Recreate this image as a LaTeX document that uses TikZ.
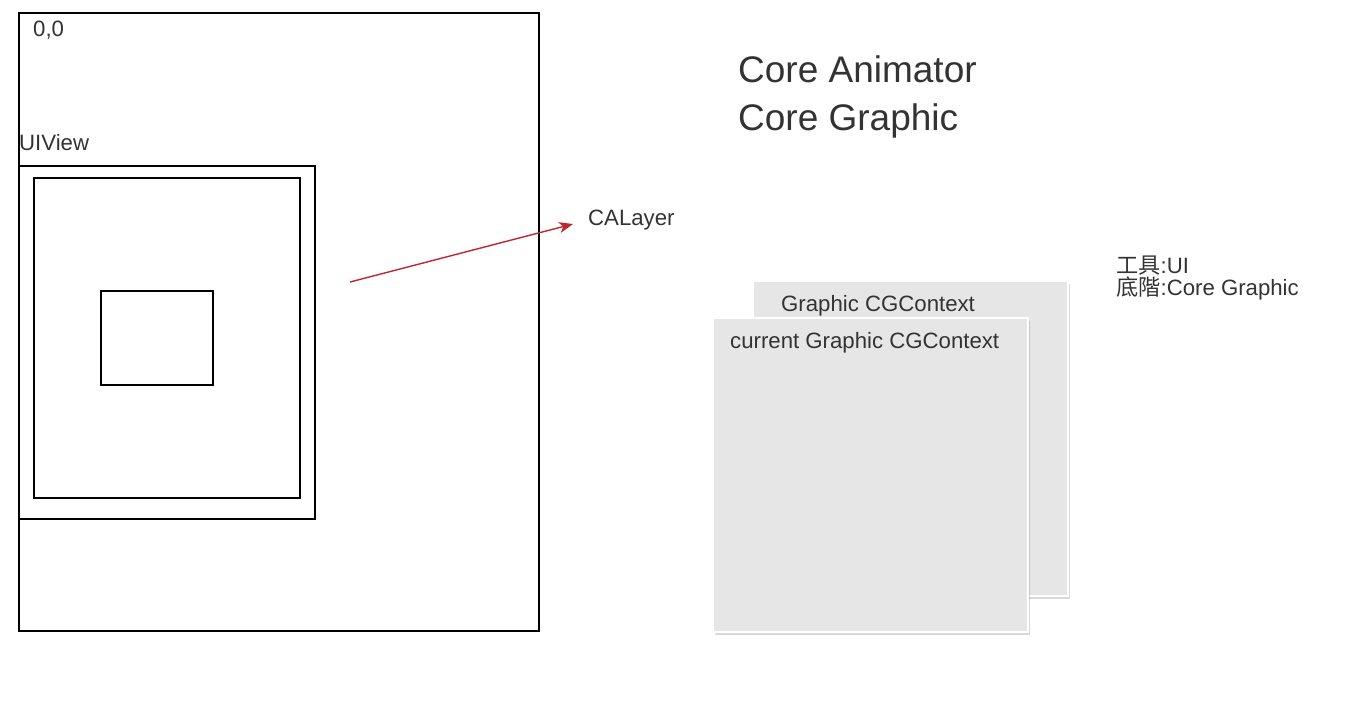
\documentclass[tikz,border=0pt]{standalone}
\usepackage{fontspec}
\setmainfont{Liberation Sans}
\newfontfamily\cjk{Noto Sans CJK SC}
\usetikzlibrary{shadows,arrows.meta}
\definecolor{txt}{HTML}{333333}
\definecolor{panel}{HTML}{E6E6E6}
\definecolor{arrowred}{HTML}{C0262D}
\begin{document}
\begin{tikzpicture}[x=1pt,y=1pt,
  frame/.style={draw=black,line width=1.5pt,inner sep=0pt,outer sep=0pt,anchor=north west},
  lbl/.style={text=txt,inner sep=0pt,anchor=west,yshift=-2.5pt,font=\fontsize{22.2}{25}\selectfont},
  title/.style={text=txt,inner sep=0pt,anchor=west,yshift=-3.5pt,font=\fontsize{37}{41}\selectfont},
  ctxpanel/.style={fill=panel,draw=white,line width=2pt,inner sep=0pt,outer sep=0pt,anchor=north west,
    minimum width=315,minimum height=315,
    drop shadow={shadow xshift=2pt,shadow yshift=-3pt,opacity=0.25,fill=black!60}},
  link/.style={draw=arrowred,line width=1.4pt,-{Stealth[length=14pt,width=11pt,inset=4pt]}}]
  \useasboundingbox (0,0) rectangle (1367,-710);

  % screen with its coordinate origin
  \node[frame,minimum width=520,minimum height=618] (screen) at (19,-13) {};
  \node[lbl] (origin) at (33,-28) {0,0};

  % view hierarchy
  \node[lbl] (uiviewlbl) at (19,-140) {UIView};
  \node[frame,minimum width=296,minimum height=353] (uiview) at (19,-166) {};
  \node[frame,minimum width=266,minimum height=320] (inner) at (34,-178) {};
  \node[frame,minimum width=112,minimum height=94] (sub) at (101,-291) {};

  % backing layer
  \node[lbl] (calayer) at (588,-218) {CALayer};
  \coordinate (src) at (350,-282);
  \coordinate (tip) at (573,-224);
  \draw[link] (src) -- (tip);

  % frameworks
  \node[title] (anim) at (738,-66) {Core Animator};
  \node[title] (graph) at (738,-117) {Core Graphic};

  % graphics contexts
  \node[ctxpanel] (ctxback) at (753,-281) {};
  \node[lbl] (ctxbacklbl) at (781,-303) {Graphic CGContext};
  \node[ctxpanel,minimum height=314] (ctxfront) at (713,-318) {};
  \node[lbl] (ctxfrontlbl) at (730,-340) {current Graphic CGContext};

  % notes
  \node[lbl] (tool) at (1116,-263) {{\cjk 工具}:UI};
  \node[lbl] (base) at (1116,-286) {{\cjk 底階}:Core Graphic};
\end{tikzpicture}
\end{document}
